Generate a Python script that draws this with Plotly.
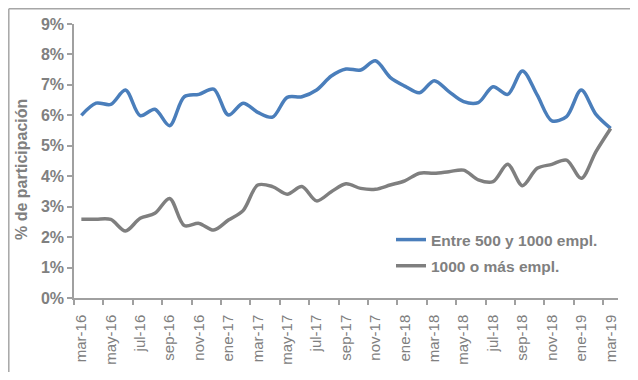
import plotly.graph_objects as go

months = ["mar-16","abr-16","may-16","jun-16","jul-16","ago-16","sep-16","oct-16","nov-16","dic-16",
          "ene-17","feb-17","mar-17","abr-17","may-17","jun-17","jul-17","ago-17","sep-17","oct-17",
          "nov-17","dic-17","ene-18","feb-18","mar-18","abr-18","may-18","jun-18","jul-18","ago-18",
          "sep-18","oct-18","nov-18","dic-18","ene-19","feb-19","mar-19"]

entre_500_1000 = [6.00, 6.40, 6.36, 6.83, 5.99, 6.20, 5.66, 6.61, 6.69, 6.86,
                  6.01, 6.40, 6.10, 5.94, 6.59, 6.61, 6.83, 7.29, 7.52, 7.49,
                  7.79, 7.25, 6.96, 6.74, 7.14, 6.78, 6.45, 6.42, 6.94, 6.69,
                  7.46, 6.67, 5.82, 5.96, 6.83, 6.03, 5.57]

mas_1000 = [2.59, 2.59, 2.58, 2.20, 2.62, 2.78, 3.27, 2.38, 2.45, 2.23,
            2.56, 2.87, 3.71, 3.66, 3.41, 3.66, 3.19, 3.49, 3.75, 3.60,
            3.57, 3.71, 3.85, 4.10, 4.10, 4.15, 4.20, 3.88, 3.82, 4.39,
            3.69, 4.26, 4.39, 4.53, 3.93, 4.81, 5.57]

y_ticks = [0, 1, 2, 3, 4, 5, 6, 7, 8, 9]
y_tick_labels = [f"{v}%" for v in y_ticks]
y_title = "% de participación"

GRAY_TEXT = "#808080"
AXIS = "#a0a0a0"
FONT = "Liberation Sans, Arial, sans-serif"

idx = list(range(len(months)))

fig = go.Figure()
fig.add_trace(go.Scatter(x=idx, y=entre_500_1000, mode="lines", name="Entre 500 y 1000 empl.",
                         legendgroup="a",
                         line=dict(color="#4a7ebb", width=3.5, shape="spline", smoothing=0.9)))
fig.add_trace(go.Scatter(x=idx, y=mas_1000, mode="lines", name="1000 o más empl.",
                         legendgroup="b",
                         line=dict(color="#7f7f7f", width=3.5, shape="spline", smoothing=0.9)))

# The page body has an 8px default margin; the figure is sized so the page
# does not overflow, and all geometry is expressed in page pixels below.
OFF = 8
PAGE_W, PAGE_H = 638, 380
W, H = PAGE_W - OFF, PAGE_H - 2 * OFF
PL, PT, PR, PB = 74, 24, 618, 298  # plot area in page pixels
L, T = PL - OFF, PT - OFF
R, B = W - (PR - OFF), H - (PB - OFF)
pw, ph = PR - PL, PB - PT

def px(x):
    return (x - PL) / pw

def py(y):
    return (PB - y) / ph

border = dict(color="#a6a6a6", width=1.5)
shapes = [
    dict(type="line", xref="paper", yref="paper", x0=px(8.8), x1=px(8.8),
         y0=py(8.8), y1=py(PAGE_H - 8), line=border, layer="below"),
    dict(type="line", xref="paper", yref="paper", x0=px(8.8), x1=px(PAGE_W - 1),
         y0=py(8.8), y1=py(8.8), line=border, layer="below"),
]

fig.update_layout(
    width=W, height=H,
    margin=dict(l=L, r=R, t=T, b=B),
    paper_bgcolor="white", plot_bgcolor="white",
    font=dict(family=FONT, color=GRAY_TEXT),
    showlegend=True,
    legend=dict(x=px(391), y=py(223), xanchor="left", yanchor="top",
                bgcolor="rgba(0,0,0,0)", traceorder="grouped", tracegroupgap=3,
                font=dict(family=FONT, size=15.5, color=GRAY_TEXT, weight="bold")),
    xaxis=dict(range=[-0.5, len(months) - 0.5], showgrid=False, zeroline=False,
               automargin=False,
               showline=True, linecolor=AXIS, linewidth=1.5,
               tickmode="array", tickvals=idx[::2], ticktext=months[::2],
               ticks="outside", ticklen=9, tickcolor="rgba(0,0,0,0)", tickangle=-90,
               tickfont=dict(family=FONT, size=15, color=GRAY_TEXT),
               minor=dict(tickmode="linear", tick0=-0.5, dtick=2, ticks="outside",
                          ticklen=5, tickcolor=AXIS, tickwidth=1.5, showgrid=False)),
    yaxis=dict(range=[0, 9], showgrid=False, zeroline=False,
               automargin=False,
               showline=True, linecolor=AXIS, linewidth=1.5,
               tickmode="array", tickvals=y_ticks, ticktext=y_tick_labels,
               ticks="outside", ticklen=5, tickcolor=AXIS, tickwidth=1.5,
               tickfont=dict(family=FONT, size=16, color=GRAY_TEXT, weight="bold")),
    annotations=[dict(text=y_title, xref="paper", yref="paper", x=px(21), y=py(170),
                      xanchor="center", yanchor="middle", textangle=-90, showarrow=False,
                      font=dict(family=FONT, size=16, color=GRAY_TEXT, weight="bold"))],
    shapes=shapes,
)

fig.write_html("out.html")
